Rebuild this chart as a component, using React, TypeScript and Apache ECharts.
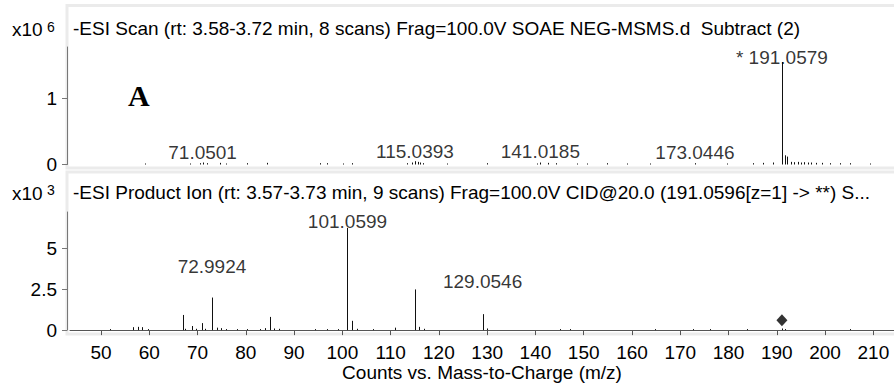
import React, { useEffect, useRef } from "react";
import * as echarts from "echarts";

const FONT = "'Liberation Sans', Arial, sans-serif";

const X_MIN = 43.58;
const X_MAX = 214.28;
const xTickValues = [50, 60, 70, 80, 90, 100, 110, 120, 130, 140, 150, 160, 170, 180, 190, 200, 210];

const topTitle = "-ESI Scan (rt: 3.58-3.72 min, 8 scans) Frag=100.0V SOAE NEG-MSMS.d  Subtract (2)";
const bottomTitle = "-ESI Product Ion (rt: 3.57-3.73 min, 9 scans) Frag=100.0V CID@20.0 (191.0596[z=1] -> **) S...";
const xAxisTitle = "Counts vs. Mass-to-Charge (m/z)";

const topYTicks = [0, 1];
const bottomYTicks = [0, 2.5, 5];

// MS scan (x10^6 counts)
const topMz = [59.1, 68.4, 70.5, 71.05, 71.9, 74.7, 76.0, 80.2, 84.3, 95.4, 96.8, 100.1, 101.9, 113.3, 114.4, 115.04, 115.6, 116.1, 116.7, 121.6, 129.9, 140.3, 141.02, 142.6, 144.3, 148.7, 150.6, 154.8, 158.9, 163.7, 173.04, 179.6, 185.1, 187.1, 189.2, 191.06, 191.6, 192.06, 192.9, 193.6, 194.3, 195.0, 195.7, 196.4, 197.1, 198.2, 199.4, 201.0, 203.0, 205.2, 209.3];
const topIntensity = [0.015, 0.015, 0.02, 0.03, 0.02, 0.025, 0.015, 0.02, 0.025, 0.02, 0.02, 0.015, 0.02, 0.02, 0.03, 0.05, 0.04, 0.03, 0.02, 0.015, 0.02, 0.015, 0.03, 0.025, 0.02, 0.015, 0.015, 0.02, 0.015, 0.015, 0.02, 0.015, 0.02, 0.025, 0.03, 1.558, 0.14, 0.12, 0.04, 0.035, 0.04, 0.03, 0.035, 0.03, 0.03, 0.025, 0.025, 0.02, 0.02, 0.02, 0.015];

const topLabelText = ["71.0501", "115.0393", "141.0185", "173.0446", "* 191.0579"];
const topLabelMz = [71.0501, 115.0393, 141.0185, 173.0446, 191.0579];
const topLabelLevel = [0.175, 0.2, 0.2, 0.18, 1.63];

// Product ion (x10^3 counts)
const bottomMz = [51.9, 56.7, 57.7, 58.5, 59.7, 66.9, 67.5, 68.8, 69.6, 70.9, 71.6, 72.99, 74.0, 74.8, 75.8, 78.1, 80.2, 83.0, 84.0, 85.0, 85.8, 86.8, 94.3, 96.8, 99.0, 101.06, 102.06, 103.0, 106.4, 110.9, 115.0, 115.8, 116.9, 129.05, 130.0, 145.1, 147.2, 164.8, 172.6, 176.2, 183.8, 191.06, 191.7, 205.2];
const bottomIntensity = [0.06, 0.18, 0.2, 0.18, 0.06, 0.93, 0.08, 0.25, 0.08, 0.43, 0.08, 2.0, 0.15, 0.12, 0.05, 0.04, 0.04, 0.06, 0.12, 0.81, 0.1, 0.08, 0.03, 0.04, 0.05, 6.28, 0.57, 0.08, 0.03, 0.15, 2.5, 0.2, 0.08, 0.98, 0.1, 0.05, 0.05, 0.02, 0.02, 0.02, 0.02, 0.1, 0.05, 0.02];

const bottomLabelText = ["72.9924", "101.0599", "129.0546"];
const bottomLabelMz = [72.9924, 101.0599, 129.0546];
const bottomLabelLevel = [3.92, 6.66, 3.0];

const precursorMz = [191.0596];
const precursorLevel = [0.61];

function stickSeries(xi: number, mz: number[], inten: number[]) {
  return {
    type: "custom",
    xAxisIndex: xi,
    yAxisIndex: xi,
    silent: true,
    encode: { x: 0, y: 1 },
    data: mz.map((m, i) => [m, inten[i]]),
    renderItem: (_p: any, api: any) => {
      const x = api.value(0);
      const y = api.value(1);
      const p0 = api.coord([x, 0]);
      const p1 = api.coord([x, y]);
      const cx = Math.round(p0[0]) + 0.5;
      return {
        type: "line",
        shape: { x1: cx, y1: p0[1], x2: cx, y2: Math.min(p1[1], p0[1] - 1) },
        style: { stroke: "#111", lineWidth: 1 },
      };
    },
  };
}

function labelSeries(xi: number, mz: number[], lvl: number[], txt: string[]) {
  return {
    type: "scatter",
    xAxisIndex: xi,
    yAxisIndex: xi,
    silent: true,
    symbolSize: 0,
    data: mz.map((m, i) => ({ value: [m, lvl[i]], name: txt[i] })),
    label: {
      show: true,
      position: "inside",
      formatter: "{b}",
      color: "#000",
      fontSize: 19,
      fontFamily: FONT,
    },
  };
}

export default function App() {
  const ref = useRef<HTMLDivElement>(null);
  useEffect(() => {
    if (!ref.current) return;
    const chart = echarts.init(ref.current, undefined, { renderer: "svg" });
    const yBase = (gi: number, max: number, ticks: number[]) => ({
      type: "value",
      gridIndex: gi,
      min: 0,
      max,
      offset: 3,
      axisLine: { show: true, lineStyle: { color: "#777", width: 1 } },
      axisTick: { show: true, length: 5, customValues: ticks, lineStyle: { color: "#777" } },
      axisLabel: { customValues: ticks, fontSize: 19, color: "#000", margin: 10, fontFamily: FONT },
      splitLine: { show: false },
    });
    chart.setOption({
      animation: false,
      backgroundColor: "#fff",
      grid: [
        { left: 70, right: 0, top: 47, height: 117.5 },
        { left: 70, right: 0, top: 212, height: 119 },
      ],
      xAxis: [
        { type: "value", gridIndex: 0, min: X_MIN, max: X_MAX, show: false },
        {
          type: "value",
          gridIndex: 1,
          min: X_MIN,
          max: X_MAX,
          offset: 6,
          axisLine: { show: true, lineStyle: { color: "#555", width: 1 } },
          axisTick: { show: true, length: 5, customValues: xTickValues, lineStyle: { color: "#555" } },
          axisLabel: { customValues: xTickValues, fontSize: 19, color: "#000", margin: 7, fontFamily: FONT },
          splitLine: { show: false },
          name: xAxisTitle,
          nameLocation: "middle",
          nameGap: 25,
          nameTextStyle: { fontSize: 19, color: "#000", fontFamily: FONT },
        },
      ],
      yAxis: [yBase(0, 1.786, topYTicks), yBase(1, 7.256, bottomYTicks)],
      graphic: [
        { type: "rect", z: -1, shape: { x: 67, y: 5.5, width: 900, height: 162.5 }, style: { fill: "none", stroke: "#ebebeb", lineWidth: 3 } },
        { type: "rect", z: -1, shape: { x: 67, y: 172, width: 900, height: 162 }, style: { fill: "none", stroke: "#ebebeb", lineWidth: 3 } },
        { type: "text", x: 73, y: 28.5, style: { text: topTitle, fontSize: 19, fontFamily: FONT, fill: "#000", textVerticalAlign: "middle" } },
        { type: "text", x: 73, y: 192, style: { text: bottomTitle, fontSize: 19, fontFamily: FONT, fill: "#000", textVerticalAlign: "middle" } },
        { type: "text", x: 12, y: 29.5, style: { text: "x10", fontSize: 19, fontFamily: FONT, fill: "#000", textVerticalAlign: "middle" } },
        { type: "text", x: 47, y: 26.5, style: { text: "6", fontSize: 14, fontFamily: FONT, fill: "#000", textVerticalAlign: "middle" } },
        { type: "text", x: 12, y: 193, style: { text: "x10", fontSize: 19, fontFamily: FONT, fill: "#000", textVerticalAlign: "middle" } },
        { type: "text", x: 47, y: 190, style: { text: "3", fontSize: 14, fontFamily: FONT, fill: "#000", textVerticalAlign: "middle" } },
        { type: "text", x: 128, y: 95, style: { text: "A", fontSize: 30, fontWeight: "bold", fontFamily: "'Liberation Serif', 'Times New Roman', serif", fill: "#000", textVerticalAlign: "middle" } },
      ],
      series: [
        stickSeries(0, topMz, topIntensity),
        stickSeries(1, bottomMz, bottomIntensity),
        labelSeries(0, topLabelMz, topLabelLevel, topLabelText),
        labelSeries(1, bottomLabelMz, bottomLabelLevel, bottomLabelText),
        {
          type: "scatter",
          xAxisIndex: 1,
          yAxisIndex: 1,
          silent: true,
          symbol: "diamond",
          symbolSize: [11, 12],
          itemStyle: { color: "#000" },
          data: precursorMz.map((m, i) => [m, precursorLevel[i]]),
        },
      ],
    });
    return () => chart.dispose();
  }, []);
  return <div ref={ref} style={{ width: 894, height: 383, position: "absolute", left: 0, top: 0 }} />;
}
